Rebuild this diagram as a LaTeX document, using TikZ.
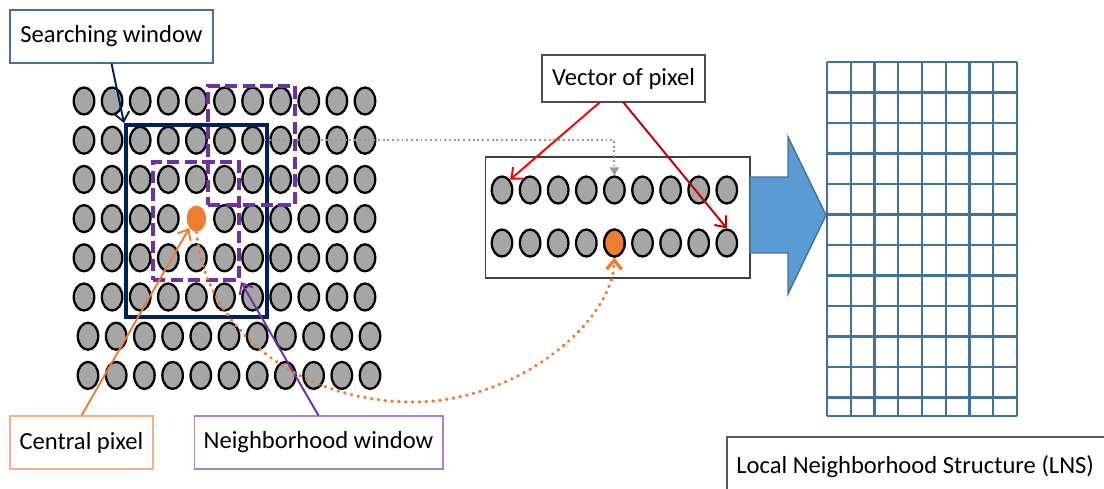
\documentclass[tikz,border=0pt]{standalone}
\usepackage{fontspec}
\setmainfont{Carlito}
\usetikzlibrary{shapes.geometric, arrows.meta, positioning, calc}

\definecolor{swnavy}{HTML}{002060}
\definecolor{nwpurple}{HTML}{7030A0}
\definecolor{cporange}{HTML}{ED7D31}
\definecolor{lnsblue}{HTML}{41719C}
\definecolor{arrowblue}{HTML}{5B9BD5}
\definecolor{darkred}{HTML}{C00000}

\begin{document}
\begin{tikzpicture}[
        x=0.02cm, y=-0.02cm,
        font=\fontsize{14}{16}\selectfont,
        pix/.style={ellipse, draw=black, line width=1.3pt, fill=gray!70,
                    minimum width=0.41cm, minimum height=0.54cm, inner sep=0pt},
        cpix/.style={ellipse, fill=cporange, minimum width=0.39cm,
                     minimum height=0.52cm, inner sep=0pt},
        lbl/.style={rectangle, line width=0.6pt, fill=white, align=center,
                    inner sep=0pt, minimum height=1.06cm},
        swin/.style={rectangle, draw=swnavy, line width=2.3pt},
        nwin/.style={rectangle, draw=nwpurple, line width=2.3pt,
                     dash pattern=on 7pt off 3pt},
        lns/.style={draw=lnsblue, line width=1.4pt},
        tip/.style={-{Straight Barb[length=1.8mm, width=3mm]}, line width=1.1pt},
    ]
        \clip (0,0) rectangle (1104,488);

        % image pixels
        \foreach \r in {1,...,8}
            \foreach \c in {1,...,11} {
                \pgfmathsetmacro{\gx}{\r>6 ? 88+28.2*(\c-1) : 84+28.1*(\c-1)}
                \pgfmathsetmacro{\gy}{101+39.2*(\r-1)}
                \ifnum\r\c=45
                    \node[cpix] (cp) at (\gx,\gy) {};
                \else
                    \node[pix] (p-\r-\c) at (\gx,\gy) {};
                \fi
            }

        % windows
        \node[swin, minimum width=2.82cm, minimum height=3.84cm] (sw) at (196.5,221) {};
        \node[nwin, minimum width=1.74cm, minimum height=2.38cm] (nw2) at (251.5,145.5) {};
        \node[nwin, minimum width=1.72cm, minimum height=2.36cm] (nw1) at (196,221) {};

        % vector of pixels
        \node[draw=black!75, line width=0.6pt, minimum width=5.3cm, minimum height=2.42cm]
            (vbox) at (617.5,217.5) {};
        \foreach \r/\y in {1/190, 2/243}
            \foreach \c in {1,...,9} {
                \node[pix] (v-\r-\c) at (502+28.1*\c-28.1,\y) {};
            }
        \node[pix, fill=cporange] at (v-2-5) {};

        % block arrow
        \draw[fill=arrowblue, draw=lnsblue, line width=0.8pt]
            (750,177) -- (788,177) -- (788,137) -- (826,215) -- (788,294)
            -- (788,253) -- (750,253) -- cycle;

        % local neighborhood structure
        \foreach \i in {0,...,8}
            \draw[lns] (827+23.75*\i,62) -- (827+23.75*\i,416);
        \foreach \j in {0,...,11}
            \draw[lns] (827,62+30.5*\j) -- (1017,62+30.5*\j);
        \draw[lns] (827,416) -- (1017,416);

        % labels
        \node[lbl, draw=lnsblue, minimum width=4.06cm] (swlbl) at (111.5,36.5) {Searching window};
        \node[lbl, draw=cporange!60, minimum width=2.86cm] (cplbl) at (81.5,442.5) {Central pixel};
        \node[lbl, draw=nwpurple!60, minimum width=4.98cm] (nwlbl) at (318.5,442.5) {Neighborhood window};
        \node[lbl, draw=black!70, minimum width=3.26cm, minimum height=0.94cm] (vlbl) at (623.5,78.5) {Vector of pixel};
        \node[anchor=north west, inner xsep=0.18cm, inner ysep=0pt, minimum height=1.16cm]
            (lnslbl) at (727,437) {\makebox[7.5cm][l]{Local Neighborhood Structure (LNS)}};
        \draw[black!65, line width=0.6pt] (lnslbl.north east) -- (lnslbl.north west) -- (lnslbl.south west);

        % connectors
        \draw[tip, swnavy] (swlbl.south) -- (sw.north west);
        \draw[tip, cporange] (cplbl.north) -- (cp.south west);
        \draw[tip, nwpurple] (nwlbl.north) -- (nw1.south east);
        \draw[tip, red] ($(vlbl.south)+(-24,0)$) -- (v-1-1.north east);
        \draw[tip, darkred] (vlbl.south) -- (v-2-9.north);
        \draw[gray!80, line width=1.1pt, dash pattern=on 1.1pt off 1.6pt,
              -{Triangle[length=1.6mm, width=1.8mm]}] (p-2-7.east) -| (v-1-5.north);
        \coordinate (low) at (413,402);
        \draw[tip, cporange, line width=1.9pt, line cap=round, dash pattern=on 0.3pt off 3.6pt]
            (cp.south) .. controls (205,330) and (300,402) .. (low)
            .. controls (520,402) and (613,320) .. (v-2-5.south);
    \end{tikzpicture}
\end{document}
